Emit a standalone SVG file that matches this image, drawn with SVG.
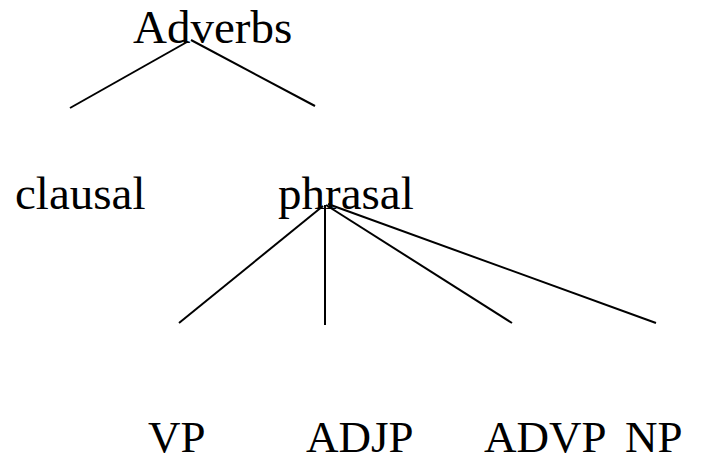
<svg xmlns="http://www.w3.org/2000/svg" width="705" height="463" viewBox="0 0 705 463">
<style>
text { font-family: "Liberation Serif", "Times New Roman", serif; fill: #000; }
.top { font-size: 47px; }
.leaf { font-size: 45px; }
.edge { stroke: #000; stroke-width: 2; fill: none; stroke-linecap: butt; }
</style>
<rect width="705" height="463" fill="#fff"/>
<g id="connectors">
<line class="edge" x1="187" y1="42" x2="70" y2="108"/>
<line class="edge" x1="191" y1="40" x2="315" y2="106"/>
<line class="edge" x1="323" y1="206" x2="179" y2="323"/>
<line class="edge" x1="325" y1="205" x2="325" y2="325"/>
<line class="edge" x1="326" y1="205" x2="512" y2="323"/>
<line class="edge" x1="328" y1="204" x2="656" y2="323"/>
</g>
<g id="adverbs"><text class="top" x="133" y="43">Adverbs</text></g>
<g id="clausal"><text class="top" x="15" y="209">clausal</text></g>
<g id="phrasal"><text class="top" x="278" y="209">phrasal</text></g>
<g id="vp"><text class="leaf" x="148" y="452">VP</text></g>
<g id="adjp"><text class="leaf" x="306" y="452">ADJP</text></g>
<g id="advp"><text class="leaf" x="484" y="452">ADVP</text></g>
<g id="np"><text class="leaf" x="625" y="452">NP</text></g>
</svg>
